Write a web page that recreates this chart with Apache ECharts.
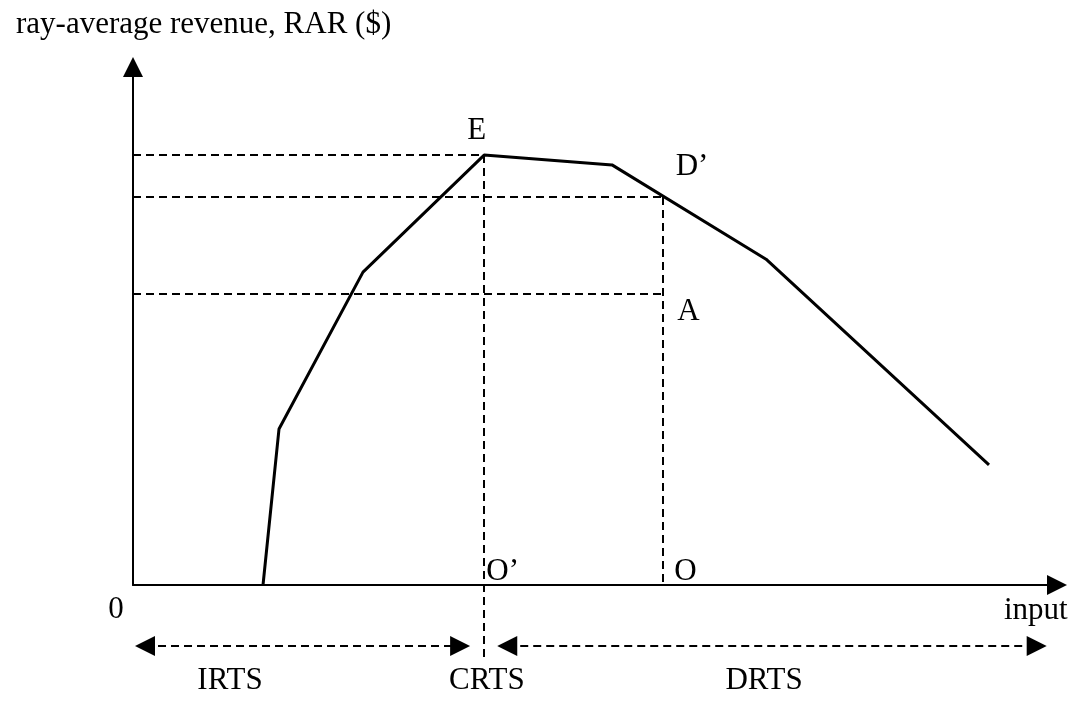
<!DOCTYPE html>
<html>
<head>
<meta charset="utf-8">
<script src="https://cdn.jsdelivr.net/npm/echarts@6/dist/echarts.min.js"></script>
<style>
html,body{margin:0;padding:0;background:#fff;}
#chart{width:1078px;height:702px;}
</style>
</head>
<body>
<div id="chart"></div>
<script>
// ---- data (abstract units: input 0..100, RAR 0..100) ----
var curveX = [14.07, 15.80, 24.89, 38.0, 51.84, 68.51, 92.64];
var curveY = [0, 30.1, 60.4, 83.0, 81.1, 62.9, 23.2];

var levelE = 83.0;      // RAR at E
var levelD = 74.9;      // RAR at D'
var levelA = 56.2;      // RAR at A
var xOprime = 38.0;     // input at O'
var xO = 57.36;         // input at O
var belowAxis = -14.1;  // lower end of O' guide
var regimeY = -11.8;    // row of regime arrows
var irtsRange = [1.3, 35.4];
var drtsRange = [40.5, 97.8];

var labelNames = ['E', 'D\u2019', 'A', 'O\u2019', 'O', '0', 'input', 'IRTS', 'CRTS', 'DRTS'];
var labelX = [37.2, 60.5, 60.1, 40.0, 59.8, -1.84, 97.7, 10.5, 38.3, 68.3];
var labelY = [87.6, 80.7, 52.7, 2.5, 2.5, -4.8, -5.0, -18.5, -18.5, -18.5];

var yTitle = 'ray-average revenue, RAR ($)';

// ---- build ----
var font = '"Liberation Serif", "Times New Roman", serif';
var curveData = curveX.map(function (x, i) { return [x, curveY[i]]; });
var guides = [
  [[0, levelE], [xOprime, levelE]],
  [[0, levelD], [xO, levelD]],
  [[0, levelA], [xO, levelA]],
  [[xOprime, levelE], [xOprime, belowAxis]],
  [[xO, levelD], [xO, 0]]
].map(function (c) { return { coords: c }; });
var regimes = [
  { coords: [[irtsRange[0], regimeY], [irtsRange[1], regimeY]] },
  { coords: [[drtsRange[0], regimeY], [drtsRange[1], regimeY]] }
];
var labelData = labelNames.map(function (n, i) { return { name: n, value: [labelX[i], labelY[i]] }; });

var chart = echarts.init(document.getElementById('chart'), null, { renderer: 'canvas' });
var axisCommon = {
  type: 'value', min: 0, max: 100,
  axisLine: { show: true, onZero: false, symbol: ['none', 'triangle'], symbolSize: [20, 20],
    lineStyle: { color: '#000', width: 2 } },
  axisTick: { show: false }, axisLabel: { show: false }, splitLine: { show: false }
};
chart.setOption({
  animation: false,
  backgroundColor: '#fff',
  title: { text: yTitle, left: 11, top: 4,
    textStyle: { fontFamily: font, fontSize: 31, fontWeight: 'normal', color: '#000' } },
  grid: { left: 133, right: 21, top: 67, bottom: 117, containLabel: false },
  xAxis: axisCommon,
  yAxis: axisCommon,
  series: [
    { type: 'lines', coordinateSystem: 'cartesian2d', clip: false, silent: true,
      data: guides, symbol: 'none',
      lineStyle: { color: '#000', width: 2, type: [8, 5], opacity: 1 } },
    { type: 'lines', coordinateSystem: 'cartesian2d', clip: false, silent: true,
      data: regimes, symbol: ['triangle', 'triangle'], symbolSize: 20,
      lineStyle: { color: '#000', width: 2, type: [8, 5], opacity: 1 } },
    { type: 'line', data: curveData, clip: false, symbol: 'none', silent: true,
      lineStyle: { color: '#000', width: 3 } },
    { type: 'scatter', data: labelData, symbolSize: 0, clip: false, silent: true,
      itemStyle: { opacity: 1, color: '#000' },
      label: { show: true, position: 'inside', formatter: '{b}', color: '#000', opacity: 1,
        textBorderWidth: 0, fontFamily: font, fontSize: 31 } }
  ]
});
</script>
</body>
</html>
